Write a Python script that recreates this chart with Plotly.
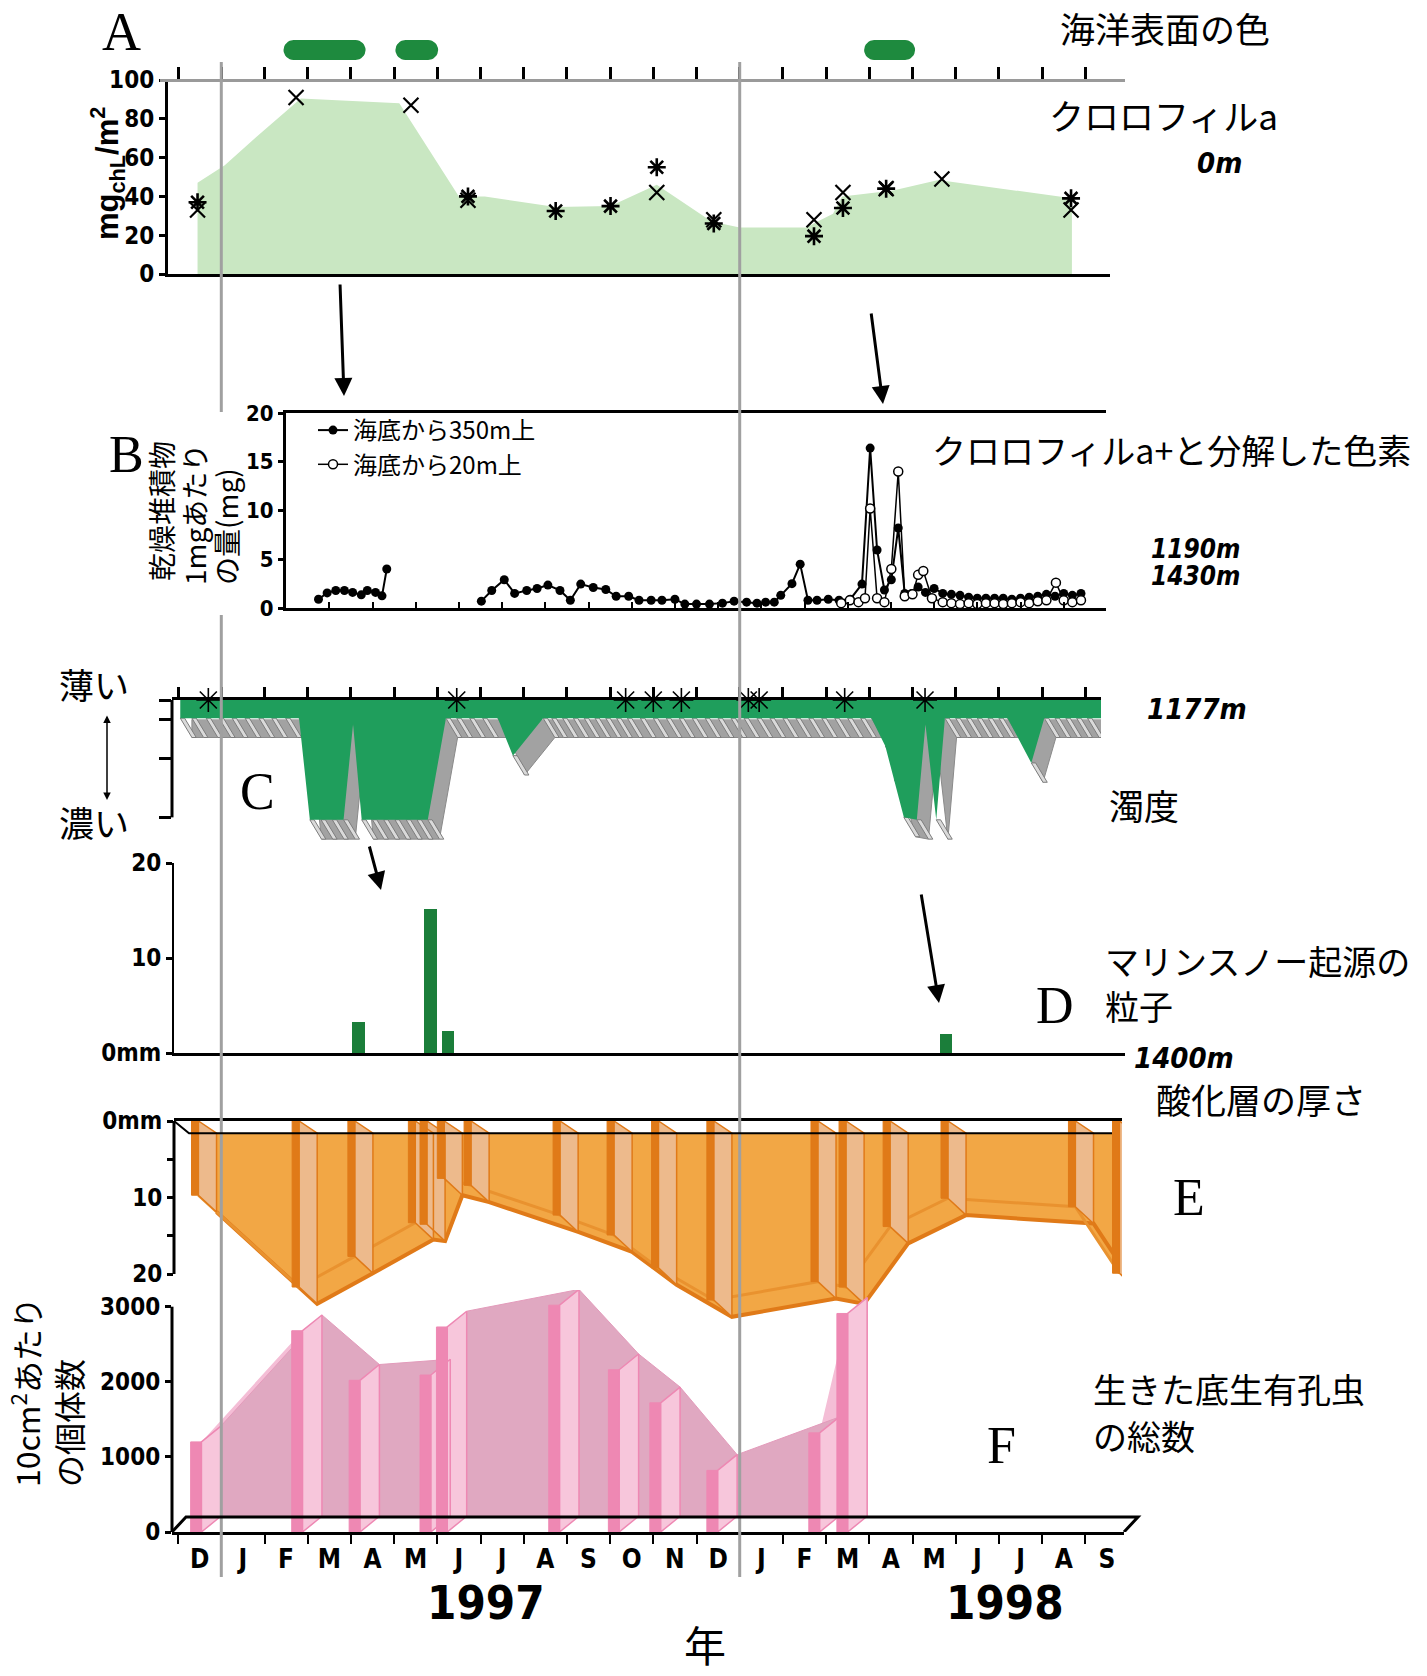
import math
import plotly.graph_objects as go

W, H = 1427, 1676
X0, DX = 221.3, 43.2          # pixel of 1 Jan 1997 and pixels per month


def t_at(px):
    return (px - X0) / DX


def xdom(l, r):
    return [l / W, r / W]


def ydom(top, bottom):
    return [1 - bottom / H, 1 - top / H]


def xp(px):
    return px / W


def yp(px):
    return 1 - px / H


NUM = ("Liberation Sans Narrow, DejaVu Sans Condensed, Liberation Sans, Arial, "
       "sans-serif")
CJK = "Noto Sans CJK JP, Noto Sans CJK SC, sans-serif"
SERIF = "Liberation Serif, DejaVu Serif, serif"

# ---------------------------------------------------------------- data
month_labels = ["D", "J", "F", "M", "A", "M", "J", "J", "A", "S", "O", "N",
                "D", "J", "F", "M", "A", "M", "J", "J", "A", "S"]
month_centers = [-0.5, 0.5, 1.5, 2.5, 3.5, 4.5, 5.5, 6.5, 7.5, 8.5, 9.5, 10.5,
                 11.5, 12.5, 13.5, 14.5, 15.5, 16.5, 17.5, 18.5, 19.5, 20.5]
month_bounds = [-1, 0, 1, 2, 3, 4, 5, 6, 7, 8, 9, 10, 11, 12, 13, 14, 15, 16,
                17, 18, 19, 20]
year_labels = ["1997", "1998"]

# A: ocean surface colour events (months since Jan 1997)
ocean_color_start = [1.44, 4.03, 14.88]
ocean_color_end = [3.34, 5.02, 16.06]

# A: chlorophyll a (mg/m2)
chl_area_t = [-0.55, -0.55, 0.08, 0.83, 1.84, 4.12, 5.5, 6.1, 7.74, 9.01, 10.08,
              11.35, 12.0, 13.53, 14.16, 14.37, 15.55, 16.6, 19.69, 19.69]
chl_area_v = [0, 47, 56, 71, 90.5, 88, 40, 40, 34.5, 35, 46,
              27, 24, 24, 31, 40, 43, 48.5, 39, 0]
chl_x_t = [-0.55, 1.73, 4.39, 5.71, 10.08, 11.4, 13.72, 14.39, 15.39, 16.68, 19.67]
chl_x_v = [33, 91, 87, 38, 42, 28, 28, 42, 44, 49, 33]
chl_ast_t = [-0.55, 5.71, 7.74, 9.01, 10.08, 11.4, 13.72, 14.39, 15.39, 19.67]
chl_ast_v = [37, 40, 32.5, 35, 55, 26, 19.5, 34, 44, 39]

# B: chlorophyll a + degraded pigments (mg per 1 mg dry sediment)
b350_t = [2.25, 2.45, 2.65, 2.85, 3.04, 3.24, 3.38, 3.57, 3.72, 3.83, None,
          6.02, 6.26, 6.55, 6.79, 7.07, 7.31, 7.56, 7.84, 8.08, 8.32,
          8.61, 8.90, 9.14, 9.43, 9.67, 9.95, 10.2, 10.5, 10.73, 11.0,
          11.3, 11.6, 11.87, 12.16, 12.4, 12.6, 12.8, 12.95, 13.21, 13.4,
          13.58, 13.79, 14.05, 14.3, 14.56, 14.83, 15.02, 15.18, 15.35, 15.51,
          15.67, 15.82, 15.98, 16.13, 16.3, 16.5, 16.7, 16.9, 17.1, 17.3,
          17.5, 17.7, 17.9, 18.1, 18.3, 18.5, 18.7, 18.9, 19.1, 19.3,
          19.5, 19.7, 19.9]
b350_v = [0.9, 1.55, 1.8, 1.8, 1.6, 1.35, 1.8, 1.6, 1.25, 4.0, None,
          0.7, 1.8, 2.9, 1.5, 1.8, 2.0, 2.35, 1.8, 0.8, 2.45,
          2.1, 1.9, 1.2, 1.2, 0.8, 0.8, 0.8, 0.9, 0.4, 0.4,
          0.4, 0.5, 0.7, 0.6, 0.5, 0.6, 0.6, 1.3, 2.5, 4.5,
          0.8, 0.8, 0.9, 0.8, 0.9, 2.45, 16.4, 5.95, 1.85, 2.9,
          8.2, 1.5, 1.5, 2.15, 1.6, 2.0, 1.5, 1.4, 1.3, 1.1,
          1.0, 1.0, 1.0, 1.0, 0.9, 1.0, 1.1, 1.2, 1.4, 1.2,
          1.5, 1.3, 1.5]
b20_t = [14.35, 14.55, 14.75, 14.9, 15.02, 15.18, 15.35, 15.51, 15.67, 15.82,
         16.0, 16.13, 16.25, 16.45, 16.7, 16.9, 17.1, 17.3, 17.5, 17.7,
         17.9, 18.1, 18.3, 18.5, 18.7, 18.9, 19.1, 19.32, 19.5, 19.7, 19.9]
b20_v = [0.5, 0.8, 0.6, 1.0, 10.2, 1.0, 0.6, 4.0, 14.0, 1.2,
         1.4, 3.4, 3.8, 1.0, 0.6, 0.5, 0.4, 0.5, 0.4, 0.5,
         0.5, 0.4, 0.5, 0.6, 0.5, 0.7, 0.8, 2.6, 0.8, 0.6, 0.8]

# C: turbidity (0 = light ... larger = dense)
turb_t = [-0.95, -0.68, -0.35, -0.05, 0.25, 0.55, 0.87, 1.17, 1.49, 1.8,
          2.05, 2.31, 2.57, 2.83, 3.05, 3.25, 3.5, 3.76, 4.02, 4.28,
          4.53, 4.78, 5.2, 5.45, 5.75, 6.05, 6.4, 6.75, 7.45, 7.65,
          7.9, 8.15, 8.4, 8.65, 8.9, 9.15, 9.4, 9.7, 10.0, 10.3,
          10.6, 10.9, 11.2, 11.5, 11.8, 12.1, 12.4, 12.7, 13.0, 13.3,
          13.6, 13.9, 14.2, 14.5, 14.8, 15.05, 15.37, 15.58, 15.8, 16.1,
          16.3, 16.55, 16.75, 17.0, 17.25, 17.5, 17.75, 18.0, 18.2, 18.75,
          19.05, 19.3, 19.55, 19.8, 20.05, 20.37]
turb_v = [1.5, 1.5, 1.5, 1.5, 1.5, 1.5, 1.5, 1.5, 1.5, 1.5,
          9.9, 9.9, 9.9, 9.9, 2.0, 9.9, 9.9, 9.9, 9.9, 9.9,
          9.9, 9.9, 1.5, 1.5, 1.5, 1.5, 1.5, 4.6, 1.5, 1.5,
          1.5, 1.5, 1.5, 1.5, 1.5, 1.5, 1.5, 1.5, 1.5, 1.5,
          1.5, 1.5, 1.5, 1.5, 1.5, 1.5, 1.5, 1.5, 1.5, 1.5,
          1.5, 1.5, 1.5, 1.5, 1.5, 1.5, 3.8, 6.6, 9.7, 9.9,
          2.0, 9.9, 1.5, 1.5, 1.5, 1.5, 1.5, 1.5, 1.5, 5.2,
          1.5, 1.5, 1.5, 1.5, 1.5, 1.5]
turb_mark_t = [-0.3, 5.45, 9.36, 10.0, 10.65, 12.2, 12.45, 14.43, 16.29]

# D: marine snow particles (mm)
snow_t = [3.17, 4.84, 5.25, 16.78]
snow_v = [3.3, 15.2, 2.35, 2.0]

# E: oxidised layer thickness (mm)
oxi_t = [-0.69, 1.64, 2.93, 4.33, 4.6, 5.0, 5.62, 7.68, 8.93, 9.96, 11.24,
         13.65, 14.30, 15.32, 16.66, 19.61, 20.63]
oxi_v = [9.7, 21.7, 17.7, 13.3, 13.5, 7.5, 8.4, 12.3, 14.9, 19.2, 23.4,
         21.0, 21.7, 13.8, 10.1, 11.2, 19.9]

# F: living benthic foraminifera (per 10 cm2)
foram_t = [-0.71, 1.63, 2.96, 4.6, 4.98, 7.58, 8.96, 9.92, 11.24, 13.6, 14.25]
foram_v = [1200, 2680, 2020, 2090, 2730, 3020, 2160, 1720, 820, 1320, 2910]

# ---------------------------------------------------------------- geometry helpers
A_TOP, A_BOT = 80, 274            # 100 .. 0
STRIP_TOP, STRIP_BOT = 20, 79
B_TOP, B_BOT = 413, 608           # 20 .. 0
C_TOP, C_BOT, C_PPU = 700, 845, 12.1
D_TOP, D_BOT = 863, 1053          # 20 .. 0
E_TOP, E_BOT, E_PPU = 1121, 1330, 7.65
F_TOP, F_BOT, F_PPU = 1290, 1532, 0.0751

fig = go.Figure()


def add(tr):
    fig.add_trace(tr)


# ---------- A strip (ocean colour)
rx = 10 / DX
ry = 10 / (STRIP_BOT - STRIP_TOP)
yc = (STRIP_BOT - 50) / (STRIP_BOT - STRIP_TOP)
px_, py_ = [], []
for t0, t1 in zip(ocean_color_start, ocean_color_end):
    n = 16
    start = len(px_)
    for k in range(n + 1):
        a = -math.pi / 2 + math.pi * k / n
        px_.append(t1 - rx + rx * math.cos(a))
        py_.append(yc + ry * math.sin(a))
    for k in range(n + 1):
        a = math.pi / 2 + math.pi * k / n
        px_.append(t0 + rx + rx * math.cos(a))
        py_.append(yc + ry * math.sin(a))
    px_.append(px_[start])
    py_.append(py_[start])
    px_.append(None)
    py_.append(None)
add(go.Scatter(x=px_, y=py_, fill="toself", fillcolor="#1E8A3E", mode="lines",
               line=dict(width=0), xaxis="x8", yaxis="y8", hoverinfo="skip",
               showlegend=False))

# ---------- A chlorophyll
add(go.Scatter(x=chl_area_t, y=chl_area_v, fill="toself", fillcolor="#C9E7C2",
               mode="lines", line=dict(width=0), xaxis="x", yaxis="y",
               hoverinfo="skip", showlegend=False))
add(go.Scatter(x=chl_x_t, y=chl_x_v, mode="markers", cliponaxis=False,
               marker=dict(symbol="x-thin-open", size=15, color="black",
                           line=dict(color="black", width=2.2)),
               xaxis="x", yaxis="y", showlegend=False))
add(go.Scatter(x=chl_ast_t, y=chl_ast_v, mode="markers", cliponaxis=False,
               marker=dict(symbol="asterisk-open", size=15, color="black",
                           line=dict(color="black", width=2.6)),
               xaxis="x", yaxis="y", showlegend=False))

# ---------- B
add(go.Scatter(x=b350_t, y=b350_v, mode="lines+markers", name="海底から350m上",
               line=dict(color="black", width=2),
               marker=dict(symbol="circle", size=9, color="black"),
               connectgaps=False, xaxis="x2", yaxis="y2", cliponaxis=False))
add(go.Scatter(x=b20_t, y=b20_v, mode="lines+markers", name="海底から20m上",
               line=dict(color="black", width=1.5),
               marker=dict(symbol="circle", size=9, color="white",
                           line=dict(color="black", width=1.5)),
               xaxis="x2", yaxis="y2", cliponaxis=False))

# ---------- C turbidity (pseudo 3-D ribbon)
dx_c, dy_c, fw_c = 0.27, 1.6, 0.1
ext_x = [turb_t[0] + dx_c] + [t + dx_c for t in turb_t] + [turb_t[-1] + dx_c]
ext_y = [dy_c] + [v + dy_c for v in turb_v] + [dy_c]
add(go.Scatter(x=ext_x, y=ext_y, fill="toself", fillcolor="#A2A2A2", mode="lines",
               line=dict(color="#8a8a8a", width=1), xaxis="x3", yaxis="y3",
               hoverinfo="skip", showlegend=False))
fin_x, fin_y = [], []
for t, v in zip(turb_t, turb_v):
    fin_x += [t, t + fw_c, t + fw_c + dx_c, t + dx_c, t, None]
    fin_y += [v, v, v + dy_c, v + dy_c, v, None]
add(go.Scatter(x=fin_x, y=fin_y, fill="toself", fillcolor="#DADADA", mode="lines",
               line=dict(color="#7d7d7d", width=1), xaxis="x3", yaxis="y3",
               hoverinfo="skip", showlegend=False))
add(go.Scatter(x=[turb_t[0]] + turb_t + [turb_t[-1]], y=[0] + turb_v + [0],
               fill="toself", fillcolor="#1F9E5C", mode="lines",
               line=dict(width=0), xaxis="x3", yaxis="y3", hoverinfo="skip",
               showlegend=False))
add(go.Scatter(x=turb_mark_t, y=[0] * len(turb_mark_t), mode="markers",
               cliponaxis=False,
               marker=dict(symbol="asterisk-open", size=20, color="black",
                           line=dict(color="black", width=1.6)),
               xaxis="x3", yaxis="y3", showlegend=False))

# ---------- D
add(go.Bar(x=snow_t, y=snow_v, width=0.29,
           marker=dict(color="#1B7E3A", line=dict(width=0)),
           xaxis="x4", yaxis="y4", showlegend=False))

# ---------- E oxidised layer
dx_e, dyt_e, dyb_e, fw_e, back_e = 0.42, 1.6, 2.2, 0.16, 1.6
pe = [t + fw_e for t in oxi_t]
fill_x = ([pe[0]] + pe + [pe[-1], None] + [pe[0] + dx_e] + [t + dx_e for t in pe]
          + [pe[-1] + dx_e])
fill_y = ([back_e] + oxi_v + [back_e, None] + [back_e] + [v + dyb_e for v in oxi_v]
          + [back_e])
add(go.Scatter(x=fill_x, y=fill_y, fill="toself", fillcolor="#F2A745", mode="lines",
               line=dict(width=0), xaxis="x5", yaxis="y5", hoverinfo="skip",
               showlegend=False))
add(go.Scatter(x=[t + dx_e for t in pe], y=[v + dyb_e for v in oxi_v], mode="lines",
               line=dict(color="#E07A18", width=4), xaxis="x5", yaxis="y5",
               hoverinfo="skip", showlegend=False))
add(go.Scatter(x=pe, y=oxi_v, mode="lines", line=dict(color="#E9922F", width=3),
               xaxis="x5", yaxis="y5", hoverinfo="skip", showlegend=False))
side_x, side_y, front_x, front_y = [], [], [], []
for t, v in zip(oxi_t, oxi_v):
    front_x += [t, t + fw_e, t + fw_e, t, t, None]
    front_y += [0, 0, v, v, 0, None]
    s = t + fw_e
    side_x += [s, s + dx_e, s + dx_e, s, s, None]
    side_y += [0, dyt_e, v + dyb_e, v, 0, None]
add(go.Scatter(x=side_x, y=side_y, fill="toself", fillcolor="#EDBA8C", mode="lines",
               line=dict(color="#E07A18", width=1.5), xaxis="x5", yaxis="y5",
               hoverinfo="skip", showlegend=False))
add(go.Scatter(x=front_x, y=front_y, fill="toself", fillcolor="#E07A18", mode="lines",
               line=dict(color="#E07A18", width=1), xaxis="x5", yaxis="y5",
               hoverinfo="skip", showlegend=False))

# ---------- F foraminifera
dx_f, dv_f, fw_f, back_f = 0.45, 210, 0.25, 200
pf = [t + fw_f for t in foram_t]
add(go.Scatter(x=[pf[0]] + pf + [pf[-1]], y=[back_f] + foram_v + [back_f],
               fill="toself", fillcolor="#F4BED6", mode="lines", line=dict(width=0),
               xaxis="x6", yaxis="y6", hoverinfo="skip", showlegend=False))
add(go.Scatter(x=[pf[0] + dx_f] + [t + dx_f for t in pf] + [pf[-1] + dx_f],
               y=[back_f] + [v + dv_f for v in foram_v] + [back_f],
               fill="toself", fillcolor="#E0A8C1", mode="lines",
               line=dict(color="#E39BBB", width=1), xaxis="x6", yaxis="y6",
               hoverinfo="skip", showlegend=False))
side_x, side_y, front_x, front_y = [], [], [], []
for t, v in zip(foram_t, foram_v):
    front_x += [t, t + fw_f, t + fw_f, t, t, None]
    front_y += [0, 0, v, v, 0, None]
    s = t + fw_f
    side_x += [s, s + dx_f, s + dx_f, s, s, None]
    side_y += [0, dv_f, v + dv_f, v, 0, None]
add(go.Scatter(x=side_x, y=side_y, fill="toself", fillcolor="#F7C6DB", mode="lines",
               line=dict(color="#EE88B3", width=1.5), xaxis="x6", yaxis="y6",
               hoverinfo="skip", showlegend=False))
add(go.Scatter(x=front_x, y=front_y, fill="toself", fillcolor="#EE88B3", mode="lines",
               line=dict(color="#EE88B3", width=1), xaxis="x6", yaxis="y6",
               hoverinfo="skip", showlegend=False))

# ---------------------------------------------------------------- axes
numfont = dict(family=NUM, size=24, color="black", weight="bold")


def xa(l, r, anchor, **kw):
    d = dict(domain=xdom(l, r), range=[t_at(l), t_at(r)], anchor=anchor,
             showgrid=False, zeroline=False, showticklabels=False, ticks="",
             showline=False, fixedrange=True, automargin=False)
    d.update(kw)
    return d


def ya(top, bottom, rng, anchor, **kw):
    d = dict(domain=ydom(top, bottom), range=rng, anchor=anchor, showgrid=False,
             zeroline=False, showticklabels=False, ticks="", showline=False,
             fixedrange=True, automargin=False)
    d.update(kw)
    return d


axis_line = dict(showline=True, linecolor="black", linewidth=3)
ytick = dict(ticks="outside", ticklen=6, tickwidth=3, tickcolor="black",
             showticklabels=True, tickfont=numfont, tickmode="array")

layout = dict(
    width=W, height=H, autosize=False,
    margin=dict(l=0, r=0, t=0, b=0, pad=0, autoexpand=False),
    paper_bgcolor="white", plot_bgcolor="rgba(0,0,0,0)",
    showlegend=True,
    legend=dict(x=xp(313), y=yp(408), xanchor="left", yanchor="top",
                bgcolor="rgba(0,0,0,0)", font=dict(family=CJK, size=24, color="black"),
                itemwidth=30, tracegroupgap=0),
    bargap=0,
)

layout["xaxis"] = xa(168, 1110, "y", **axis_line)
layout["yaxis"] = ya(A_TOP, A_BOT, [0, 100], "x", **axis_line, **ytick,
                     tickvals=[0, 20, 40, 60, 80, 100])
layout["xaxis8"] = xa(160, 1125, "y8", showline=True, linecolor="#9a9a9a", linewidth=3,
                      ticks="inside", tickmode="array", tickvals=month_bounds,
                      ticklen=12, tickwidth=3, tickcolor="black")
layout["yaxis8"] = ya(STRIP_TOP, STRIP_BOT, [0, 1], "x8")
layout["xaxis2"] = xa(286, 1106, "y2", mirror=True, **axis_line, ticks="inside",
                      tickmode="array", tickvals=[c for c in month_centers if c > 2],
                      ticklen=6, tickwidth=2, tickcolor="black")
ytick_b = dict(ytick)
ytick_b["tickfont"] = dict(family=NUM, size=22, color="black", weight="bold")
ytick_b["ticklen"] = 5
layout["yaxis2"] = ya(B_TOP, B_BOT, [0, 20], "x2", **axis_line, **ytick_b,
                      tickvals=[0, 5, 10, 15, 20])
layout["xaxis3"] = xa(172, 1101, "y3", side="top", **axis_line, ticks="outside",
                      tickmode="array", tickvals=month_bounds, ticklen=10,
                      tickwidth=3, tickcolor="black")
layout["yaxis3"] = ya(C_TOP, C_BOT, [(C_BOT - C_TOP) / C_PPU, 0], "x3",
                      ticks="outside", ticklen=12, tickwidth=3, tickcolor="black",
                      tickmode="array", tickvals=[0, 1.6, 4.8, 9.7])
layout["xaxis4"] = xa(174, 1125, "y4", **axis_line)
layout["yaxis4"] = ya(D_TOP, D_BOT, [0, 20], "x4", showline=True, linecolor="black",
                      linewidth=2, **ytick, tickvals=[0, 10, 20],
                      ticktext=["0mm", "10", "20"])
layout["xaxis5"] = xa(174, 1122, "y5", side="top", **axis_line)
layout["yaxis5"] = ya(E_TOP, E_BOT, [(E_BOT - E_TOP) / E_PPU, 0], "x5", **ytick,
                      tickvals=[0, 5, 10, 15, 20],
                      ticktext=["0mm", "", "10", "", "20"])
layout["xaxis6"] = xa(172, 1124, "y6", **axis_line, tickmode="array",
                      tickvals=month_centers, ticktext=month_labels,
                      showticklabels=True,
                      tickfont=dict(family=NUM, size=26, color="black", weight="bold"),
                      ticklabelstandoff=2,
                      minor=dict(tickmode="array", tickvals=month_bounds,
                                 ticks="outside", ticklen=9, tickwidth=2,
                                 tickcolor="black"))
layout["yaxis6"] = ya(F_TOP, F_BOT, [0, (F_BOT - F_TOP) / F_PPU], "x6", **ytick,
                      tickvals=[0, 1000, 2000, 3000])

# ---------------------------------------------------------------- shapes
shapes = []
# year boundary lines (the 1997 one is hidden behind the B axis title)
year_line_segments = [[(62, 412), (615, 1577)], [(62, 1577)]]
for yr, segs in zip([0, 12], year_line_segments):
    for top, bot in segs:
        shapes.append(dict(type="line", xref="x", yref="paper", x0=yr, x1=yr,
                           y0=yp(bot), y1=yp(top),
                           line=dict(color="#A0A0A0", width=3), layer="above"))
# left axis lines for C, E, F
shapes.append(dict(type="line", xref="paper", yref="y3", x0=xp(172), x1=xp(172),
                   y0=0, y1=9.7, line=dict(color="black", width=3)))
shapes.append(dict(type="line", xref="paper", yref="y5", x0=xp(174), x1=xp(174),
                   y0=0, y1=20, line=dict(color="black", width=3)))
shapes.append(dict(type="line", xref="paper", yref="y6", x0=xp(172), x1=xp(172),
                   y0=0, y1=3000, line=dict(color="black", width=3)))
# back edges of the 3-D floors in E and F
shapes.append(dict(type="path", xref="paper", yref="y5",
                   path=f"M {xp(174)},0 L {xp(189)},{back_e} L {xp(1112)},{back_e}",
                   line=dict(color="black", width=2)))
shapes.append(dict(type="path", xref="paper", yref="y6",
                   path=(f"M {xp(172)},0 L {xp(186)},{back_f} L {xp(1138)},{back_f} "
                         f"L {xp(1124)},0"),
                   line=dict(color="black", width=3)))
layout["shapes"] = shapes

# ---------------------------------------------------------------- annotations
ann = []


def txt(text, x, y, size, family=CJK, xanchor="center", yanchor="middle", **kw):
    d = dict(text=text, x=xp(x), y=yp(y), xref="paper", yref="paper",
             showarrow=False, font=dict(family=family, size=size, color="black"),
             xanchor=xanchor, yanchor=yanchor, borderpad=0)
    d.update(kw)
    ann.append(d)


def arrow(xt, yt, xh, yh, width=3, size=1.2, side="end"):
    ann.append(dict(text="", x=xp(xh), y=yp(yh), xref="paper", yref="paper",
                    ax=xt - xh, ay=yt - yh, axref="pixel", ayref="pixel",
                    showarrow=True, arrowhead=2, arrowsize=size, arrowwidth=width,
                    arrowcolor="black", arrowside=side))


txt("A", 121, 32, 54, family=SERIF)
txt("B", 126, 454, 52, family=SERIF)
txt("C", 257, 791, 52, family=SERIF)
txt("D", 1055, 1005, 52, family=SERIF)
txt("E", 1189, 1197, 52, family=SERIF)
txt("F", 1002, 1445, 52, family=SERIF)

txt("海洋表面の色", 1165, 27, 35)
txt("クロロフィルa", 1163, 114, 35)
txt("<b><i>0m</i></b>", 1219, 163, 29, family=NUM)
txt("<b>mg<sub>chL</sub>/m<sup>2</sup></b>", 108, 174, 31,
    family="Liberation Sans, Arial, sans-serif", textangle=-90)

# B axis title: three rotated lines, bottom-aligned
txt("乾燥堆積物", 161, 511, 28, textangle=-90)
txt("1mgあたり", 194, 514, 28, textangle=-90)
txt("の量(mg)", 226, 527, 28, textangle=-90)
txt("クロロフィルa+と分解した色素", 1171, 449, 34)
txt("<b><i>1190m</i></b>", 1195, 549, 26, family=NUM)
txt("<b><i>1430m</i></b>", 1195, 576, 26, family=NUM)

txt("薄い", 94, 684, 35)
txt("濃い", 94, 821, 35, bgcolor="white")
txt("<b><i>1177m</i></b>", 1197, 709, 29, family=NUM)
txt("濁度", 1144, 804, 35)

txt("マリンスノー起源の", 1104, 960, 34, xanchor="left")
txt("粒子", 1104, 1005, 34, xanchor="left")
txt("<b><i>1400m</i></b>", 1184, 1058, 29, family=NUM)

txt("酸化層の厚さ", 1261, 1098, 35)

txt("生きた底生有孔虫", 1092, 1388, 34, xanchor="left")
txt("の総数", 1092, 1435, 34, xanchor="left")
txt("10cm<sup>2</sup>あたり<br>の個体数", 46, 1392, 32, textangle=-90, align="left")

txt("<b>" + year_labels[0] + "</b>", 486, 1602, 47, family=NUM)
txt("<b>" + year_labels[1] + "</b>", 1005, 1602, 47, family=NUM)
txt("年", 705, 1643, 42)

arrow(340, 283, 344, 396)
arrow(871, 312, 883, 404)
arrow(369, 845, 381, 890)
arrow(921, 893, 939, 1003)
arrow(107, 714, 107, 800, width=1.5, size=1.0, side="end+start")

layout["annotations"] = ann

fig.update_layout(**layout)
fig.write_html("out.html", config={"displayModeBar": False},
               post_script="document.body.style.margin='0px';")
